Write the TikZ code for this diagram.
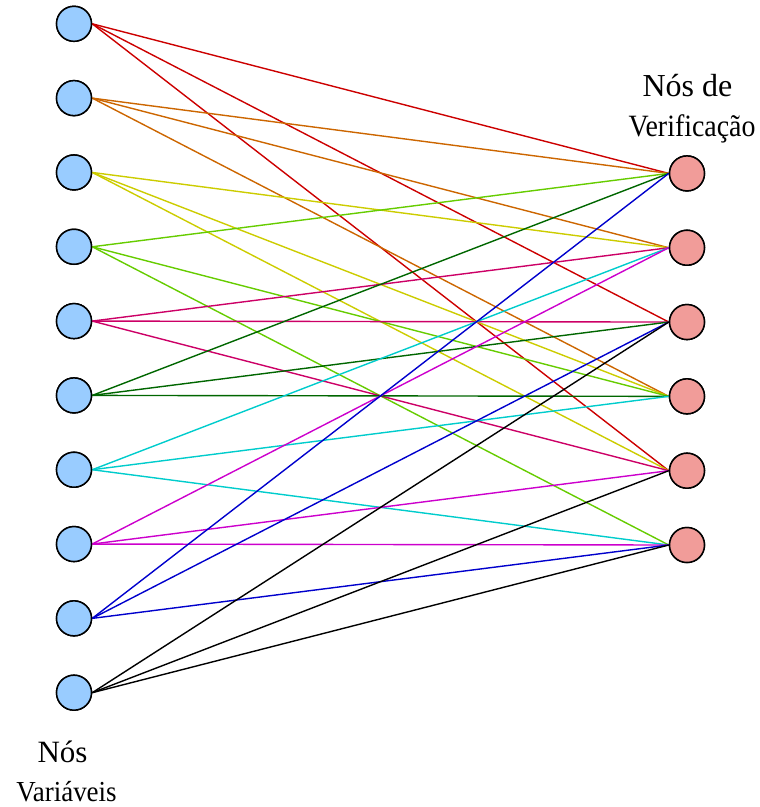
\documentclass[tikz,border=0pt]{standalone}
\usepackage{fontspec}
\setmainfont{Liberation Serif}
\definecolor{varfill}{HTML}{99CCFF}
\definecolor{chkfill}{HTML}{F19C99}
\definecolor{eA}{HTML}{CC0000}
\definecolor{eB}{HTML}{CC6600}
\definecolor{eC}{HTML}{CCCC00}
\definecolor{eD}{HTML}{66CC00}
\definecolor{eE}{HTML}{CC0066}
\definecolor{eF}{HTML}{006600}
\definecolor{eG}{HTML}{00CCCC}
\definecolor{eH}{HTML}{CC00CC}
\definecolor{eI}{HTML}{0000CC}
\definecolor{eJ}{HTML}{000000}
\tikzset{
  varnode/.style={circle, draw=black, line width=1.5pt, fill=varfill, minimum size=35pt, inner sep=0pt},
  chknode/.style={circle, draw=black, line width=1.5pt, fill=chkfill, minimum size=35pt, inner sep=0pt},
  edge/.style={line width=1.4pt},
  lbl/.style={inner sep=0pt, anchor=base}
}
\begin{document}
\begin{tikzpicture}[x=1pt,y=-1pt]
\useasboundingbox (0,0) rectangle (760,807);
% variable nodes
\foreach \i in {1,...,10} {
  \node[varnode] (v\i) at (74, {23.8+74.32*(\i-1)}) {};
}
% check nodes
\foreach \j in {1,...,6} {
  \node[chknode] (c\j) at (687, {173.4+74.32*(\j-1)}) {};
}
% edges, one colour per variable node
\foreach \v/\col/\a/\b/\c in {
  1/eA/1/3/5, 2/eB/1/2/4, 3/eC/2/4/5, 4/eD/1/4/6, 5/eE/2/3/5,
  6/eF/1/3/4, 7/eG/2/4/6, 8/eH/2/5/6, 9/eI/1/3/6, 10/eJ/3/5/6} {
  \draw[edge, draw=\col] (v\v.east) -- (c\a.west);
  \draw[edge, draw=\col] (v\v.east) -- (c\b.west);
  \draw[edge, draw=\col] (v\v.east) -- (c\c.west);
}
% redraw nodes on top of the edges
\foreach \i in {1,...,10} {
  \node[varnode] at (v\i) {};
}
\foreach \j in {1,...,6} {
  \node[chknode] at (c\j) {};
}
% labels
\node[lbl, font=\fontsize{31}{31}\selectfont] (tv1) at (62.5,762.7) {Nós};
\node[lbl, font=\fontsize{29}{29}\selectfont, xscale=0.93] (tv2) at (66.5,801.7) {Variáveis};
\node[lbl, font=\fontsize{32}{32}\selectfont] (tc1) at (687.5,96) {Nós de};
\node[lbl, font=\fontsize{31}{31}\selectfont, xscale=0.9] (tc2) at (692,136.7) {Verificação};
\end{tikzpicture}
\end{document}
